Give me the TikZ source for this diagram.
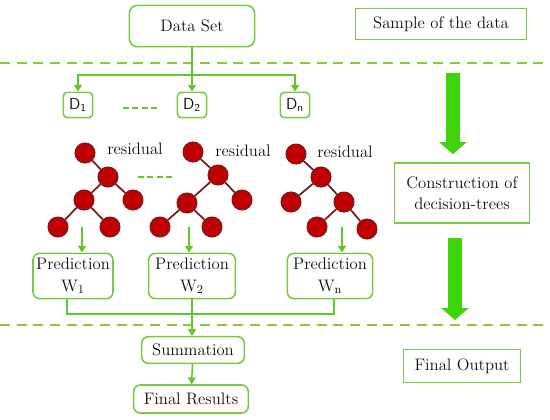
\documentclass[tikz,border=0pt]{standalone}
\usepackage{tikz}
\usetikzlibrary{arrows.meta,positioning,calc}
\definecolor{leaf}{HTML}{7CC846}
\definecolor{wire}{HTML}{62C62A}
\definecolor{lime}{HTML}{8CC63F}
\definecolor{bright}{HTML}{3ED40A}
\definecolor{berry}{HTML}{C00000}
\definecolor{bark}{HTML}{7A1A1A}
\definecolor{ink}{HTML}{111111}
\tikzset{box/.style={draw=leaf,line width=1.2pt,rounded corners=5pt,fill=white,align=center,font=\fontsize{12.5}{16}\selectfont,text=ink,inner sep=2pt},sqbox/.style={box,rounded corners=0pt},dbox/.style={box,rounded corners=3pt,font=\sffamily\fontsize{12}{14}\selectfont,minimum width=22pt,minimum height=19pt,inner sep=1pt},flow/.style={-{Triangle[length=5pt,width=6pt]},line width=1.1pt,draw=wire},link/.style={line width=1.1pt,draw=wire},dot/.style={circle,fill=berry,draw=bark,line width=0.8pt,inner sep=0pt,minimum size=15pt},twig/.style={draw=bark,line width=1.3pt},lbl/.style={font=\fontsize{12.5}{15}\selectfont,text=ink,inner sep=1pt},sep/.style={draw=lime,line width=2.2pt,dash pattern=on 7.5pt off 5pt},gap/.style={draw=wire,line width=1.6pt,dash pattern=on 4.5pt off 2.6pt},big/.style={-{Triangle[length=9pt,width=20pt]},line width=10pt,draw=bright}}
\begin{document}
\begin{tikzpicture}[x=0.75pt,y=-0.75pt]
\useasboundingbox (0,0) rectangle (550,419);
% stages on the right
\node[sqbox,minimum width=128pt,minimum height=23pt] (smp) at (441,24) {Sample of the data};
\node[sqbox,minimum width=101pt,minimum height=45pt] (con) at (462,193) {Construction of\\decision-trees};
\node[sqbox,minimum width=88pt,minimum height=25pt] (out) at (462,366) {Final Output};
\coordinate (u) at (453,73);\coordinate (v) at (455,320);
\draw[big,shorten >=6pt] (u) -- (u |- con.north);\draw[big,shorten <=11pt] (v |- con.south) -- (v);
\draw[sep] (0,63) -- (550,63);\draw[sep] (0,325) -- (550,325);
% data and samples
\node[box,minimum width=94pt,minimum height=31pt,rounded corners=6pt] (ds) at (192,26) {Data Set};
\node[dbox] (d1) at (78,105) {D\textsubscript{1}};
\node[dbox] (d2) at (192,105) {D\textsubscript{2}};
\node[dbox] (dn) at (295,105) {D\textsubscript{n}};
\coordinate (t) at (192,75);
\draw[link] (ds) -- (t);\draw[flow] (t) -| (d1);\draw[flow] (t) -- (d2);\draw[flow] (t) -| (dn);
\draw[gap,shorten <=22pt,shorten >=14pt] (d1.east |- 0,108) -- (d2.west |- 0,108);
% trees
\node[dot] (a1) at (85,153) {};\node[dot] (a2) at (108,177) {};\node[dot] (a3) at (84,200) {};
\node[dot] (a4) at (133,200) {};\node[dot] (a5) at (58,227) {};\node[dot] (a6) at (110,227) {};
\draw[twig] (a1)--(a2) (a2)--(a3) (a2)--(a4) (a3)--(a5) (a3)--(a6);
\node[dot] (b1) at (193,152) {};\node[dot] (b2) at (218,175) {};\node[dot] (b3) at (187,203) {};
\node[dot] (b4) at (242,200) {};\node[dot] (b5) at (160,227) {};\node[dot] (b6) at (212,227) {};
\draw[twig] (b1)--(b2) (b2)--(b3) (b2)--(b4) (b3)--(b5) (b3)--(b6);
\node[dot] (c1) at (296,154) {};\node[dot] (c2) at (321,177) {};\node[dot] (c3) at (291,202) {};
\node[dot] (c4) at (344,202) {};\node[dot] (c5) at (317,227) {};\node[dot] (c6) at (367,229) {};
\draw[twig] (c1)--(c2) (c2)--(c3) (c2)--(c4) (c4)--(c5) (c4)--(c6);
\node[lbl] (r1) at (135,149) {residual};\node[lbl] (r2) at (243,151) {residual};\node[lbl] (r3) at (345,152) {residual};
\draw[gap,shorten <=14.5pt,shorten >=34pt] (a2) -- (a2 -| b2);
% predictions
\node[box,minimum width=60pt,minimum height=34pt] (p1) at (73,276) {Prediction\\W$_1$};
\node[box,minimum width=65pt,minimum height=34pt] (p2) at (192,276) {Prediction\\W$_2$};
\node[box,minimum width=64pt,minimum height=34pt] (p3) at (330,276) {Prediction\\W$_{\mathrm{n}}$};
\draw[flow] ([xshift=-1.5pt]a3 |- a5) -- ([xshift=-1.5pt]a3 |- p1.north);
\draw[flow] ([xshift=1.5pt]b3 |- b5) -- ([xshift=1.5pt]b3 |- p2.north);
\draw[flow] ([xshift=-1.5pt]c4 |- c5) -- ([xshift=-1.5pt]c4 |- p3.north);
% output
\node[box,minimum width=77pt,minimum height=20pt] (sum) at (193,350) {Summation};
\node[box,minimum width=86pt,minimum height=21pt] (res) at (191,399) {Final Results};
\coordinate (j) at (192,314);
\draw[link] ([xshift=-4.5pt]p1.south) |- (j) -| ([xshift=3pt]p3.south);
\draw[flow] (p2.south) -- (sum.north -| p2.south);\draw[flow] (sum) -- (res);
\end{tikzpicture}
\end{document}
